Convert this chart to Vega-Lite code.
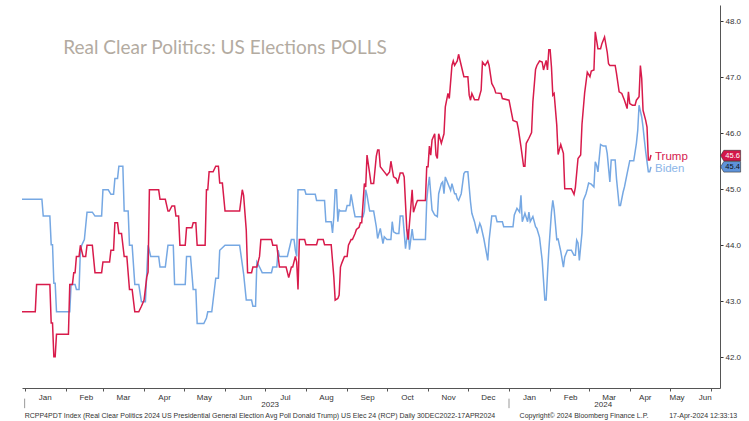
{
"$schema": "https://vega.github.io/schema/vega-lite/v6.json",
"width": 698, "height": 383,
"autosize": {"type": "none"},
"padding": {"left": 22, "top": 5, "right": 29, "bottom": 33},
"background": "white",
"config": {"view": {"stroke": null}, "font": "Liberation Sans"},
"datasets": {
"biden": [
{"date":"2022-12-30","value":44.82},{"date":"2023-01-14","value":44.82},{"date":"2023-01-15","value":44.52},{"date":"2023-01-20","value":44.52},{"date":"2023-01-21","value":44.01},{"date":"2023-01-22","value":44.01},{"date":"2023-01-23","value":43.32},{"date":"2023-01-24","value":43.32},{"date":"2023-01-25","value":42.81},{"date":"2023-02-04","value":42.81},{"date":"2023-02-05","value":43.30},{"date":"2023-02-08","value":43.30},{"date":"2023-02-09","value":43.21},{"date":"2023-02-11","value":43.21},{"date":"2023-02-12","value":43.91},{"date":"2023-02-13","value":44.00},{"date":"2023-02-15","value":44.10},{"date":"2023-02-17","value":44.59},{"date":"2023-02-21","value":44.59},{"date":"2023-02-23","value":44.52},{"date":"2023-02-28","value":44.52},{"date":"2023-03-01","value":44.99},{"date":"2023-03-05","value":44.99},{"date":"2023-03-07","value":44.91},{"date":"2023-03-09","value":44.91},{"date":"2023-03-10","value":45.19},{"date":"2023-03-12","value":45.19},{"date":"2023-03-13","value":45.41},{"date":"2023-03-16","value":45.41},{"date":"2023-03-17","value":44.61},{"date":"2023-03-20","value":44.61},{"date":"2023-03-21","value":44.00},{"date":"2023-03-23","value":44.00},{"date":"2023-03-25","value":43.30},{"date":"2023-03-28","value":43.30},{"date":"2023-03-30","value":42.99},{"date":"2023-04-02","value":42.99},{"date":"2023-04-03","value":43.49},{"date":"2023-04-04","value":44.00},{"date":"2023-04-06","value":43.80},{"date":"2023-04-12","value":43.80},{"date":"2023-04-13","value":43.61},{"date":"2023-04-17","value":43.61},{"date":"2023-04-19","value":44.00},{"date":"2023-04-23","value":44.00},{"date":"2023-04-24","value":43.30},{"date":"2023-05-02","value":43.30},{"date":"2023-05-03","value":43.80},{"date":"2023-05-06","value":43.80},{"date":"2023-05-08","value":43.21},{"date":"2023-05-10","value":43.21},{"date":"2023-05-11","value":42.60},{"date":"2023-05-16","value":42.60},{"date":"2023-05-18","value":42.70},{"date":"2023-05-19","value":42.81},{"date":"2023-05-22","value":42.81},{"date":"2023-05-25","value":43.41},{"date":"2023-05-27","value":43.41},{"date":"2023-05-28","value":43.91},{"date":"2023-06-01","value":44.00},{"date":"2023-06-12","value":44.00},{"date":"2023-06-15","value":43.49},{"date":"2023-06-17","value":43.02},{"date":"2023-06-21","value":43.02},{"date":"2023-06-22","value":42.91},{"date":"2023-06-24","value":42.91},{"date":"2023-06-25","value":43.70},{"date":"2023-06-27","value":43.61},{"date":"2023-06-29","value":43.51},{"date":"2023-07-06","value":43.51},{"date":"2023-07-07","value":43.61},{"date":"2023-07-10","value":43.61},{"date":"2023-07-11","value":43.91},{"date":"2023-07-12","value":43.80},{"date":"2023-07-18","value":43.80},{"date":"2023-07-20","value":44.00},{"date":"2023-07-21","value":44.10},{"date":"2023-07-23","value":44.10},{"date":"2023-07-24","value":43.91},{"date":"2023-07-25","value":43.80},{"date":"2023-07-26","value":44.99},{"date":"2023-07-31","value":44.99},{"date":"2023-08-01","value":44.91},{"date":"2023-08-08","value":44.91},{"date":"2023-08-09","value":44.80},{"date":"2023-08-15","value":44.80},{"date":"2023-08-16","value":44.42},{"date":"2023-08-20","value":44.42},{"date":"2023-08-21","value":44.22},{"date":"2023-08-22","value":44.51},{"date":"2023-08-23","value":44.99},{"date":"2023-08-24","value":44.99},{"date":"2023-08-25","value":44.42},{"date":"2023-08-26","value":44.63},{"date":"2023-08-27","value":44.61},{"date":"2023-08-31","value":44.61},{"date":"2023-09-01","value":44.71},{"date":"2023-09-03","value":44.71},{"date":"2023-09-04","value":44.91},{"date":"2023-09-06","value":44.63},{"date":"2023-09-07","value":44.51},{"date":"2023-09-13","value":44.51},{"date":"2023-09-14","value":44.61},{"date":"2023-09-15","value":44.99},{"date":"2023-09-16","value":44.89},{"date":"2023-09-18","value":44.61},{"date":"2023-09-21","value":44.61},{"date":"2023-09-23","value":44.33},{"date":"2023-09-24","value":44.12},{"date":"2023-09-26","value":44.30},{"date":"2023-09-28","value":44.03},{"date":"2023-09-29","value":44.15},{"date":"2023-10-01","value":44.10},{"date":"2023-10-04","value":44.10},{"date":"2023-10-05","value":44.42},{"date":"2023-10-06","value":44.24},{"date":"2023-10-08","value":44.21},{"date":"2023-10-10","value":44.21},{"date":"2023-10-11","value":44.52},{"date":"2023-10-13","value":44.52},{"date":"2023-10-15","value":43.94},{"date":"2023-10-17","value":44.29},{"date":"2023-10-18","value":43.92},{"date":"2023-10-20","value":44.29},{"date":"2023-10-21","value":44.10},{"date":"2023-10-30","value":44.10},{"date":"2023-10-31","value":44.80},{"date":"2023-11-01","value":45.04},{"date":"2023-11-02","value":45.22},{"date":"2023-11-04","value":44.63},{"date":"2023-11-06","value":44.54},{"date":"2023-11-08","value":44.51},{"date":"2023-11-09","value":44.92},{"date":"2023-11-11","value":45.10},{"date":"2023-11-12","value":45.13},{"date":"2023-11-13","value":44.92},{"date":"2023-11-14","value":45.22},{"date":"2023-11-16","value":45.10},{"date":"2023-11-17","value":45.04},{"date":"2023-11-18","value":44.98},{"date":"2023-11-19","value":45.10},{"date":"2023-11-21","value":44.92},{"date":"2023-11-22","value":44.92},{"date":"2023-11-23","value":44.83},{"date":"2023-11-24","value":44.80},{"date":"2023-11-26","value":44.92},{"date":"2023-11-28","value":45.28},{"date":"2023-11-29","value":45.31},{"date":"2023-12-01","value":45.31},{"date":"2023-12-03","value":44.77},{"date":"2023-12-04","value":44.57},{"date":"2023-12-06","value":44.42},{"date":"2023-12-08","value":44.21},{"date":"2023-12-10","value":44.39},{"date":"2023-12-11","value":44.33},{"date":"2023-12-13","value":44.12},{"date":"2023-12-16","value":43.73},{"date":"2023-12-17","value":44.09},{"date":"2023-12-19","value":44.52},{"date":"2023-12-22","value":44.52},{"date":"2023-12-23","value":44.42},{"date":"2023-12-27","value":44.42},{"date":"2023-12-28","value":44.33},{"date":"2024-01-04","value":44.33},{"date":"2024-01-05","value":44.54},{"date":"2024-01-07","value":44.66},{"date":"2024-01-09","value":44.59},{"date":"2024-01-10","value":44.89},{"date":"2024-01-11","value":44.42},{"date":"2024-01-13","value":44.57},{"date":"2024-01-15","value":44.42},{"date":"2024-01-16","value":44.59},{"date":"2024-01-17","value":44.42},{"date":"2024-01-19","value":44.51},{"date":"2024-01-21","value":44.33},{"date":"2024-01-22","value":44.30},{"date":"2024-01-24","value":44.14},{"date":"2024-01-26","value":43.73},{"date":"2024-01-28","value":43.02},{"date":"2024-01-29","value":43.02},{"date":"2024-01-30","value":43.49},{"date":"2024-01-31","value":43.91},{"date":"2024-02-02","value":44.59},{"date":"2024-02-03","value":44.80},{"date":"2024-02-04","value":44.64},{"date":"2024-02-06","value":44.10},{"date":"2024-02-07","value":44.11},{"date":"2024-02-09","value":43.89},{"date":"2024-02-11","value":43.61},{"date":"2024-02-12","value":43.79},{"date":"2024-02-14","value":43.91},{"date":"2024-02-17","value":43.91},{"date":"2024-02-19","value":43.82},{"date":"2024-02-20","value":43.82},{"date":"2024-02-21","value":44.09},{"date":"2024-02-22","value":44.04},{"date":"2024-02-23","value":43.73},{"date":"2024-02-25","value":44.22},{"date":"2024-02-26","value":44.80},{"date":"2024-02-28","value":44.92},{"date":"2024-02-29","value":45.01},{"date":"2024-03-01","value":45.11},{"date":"2024-03-03","value":45.09},{"date":"2024-03-05","value":45.04},{"date":"2024-03-06","value":45.49},{"date":"2024-03-07","value":45.43},{"date":"2024-03-08","value":45.31},{"date":"2024-03-10","value":45.80},{"date":"2024-03-12","value":45.77},{"date":"2024-03-14","value":45.77},{"date":"2024-03-15","value":45.64},{"date":"2024-03-17","value":45.13},{"date":"2024-03-18","value":45.52},{"date":"2024-03-21","value":45.52},{"date":"2024-03-22","value":45.19},{"date":"2024-03-24","value":44.71},{"date":"2024-03-25","value":44.71},{"date":"2024-03-27","value":44.95},{"date":"2024-03-28","value":45.04},{"date":"2024-03-30","value":45.28},{"date":"2024-04-01","value":45.51},{"date":"2024-04-04","value":45.51},{"date":"2024-04-06","value":45.82},{"date":"2024-04-07","value":46.05},{"date":"2024-04-08","value":46.50},{"date":"2024-04-10","value":46.29},{"date":"2024-04-11","value":46.11},{"date":"2024-04-12","value":45.88},{"date":"2024-04-13","value":45.67},{"date":"2024-04-15","value":45.31},{"date":"2024-04-16","value":45.31},{"date":"2024-04-17","value":45.40}
],
"trump": [
{"date":"2022-12-30","value":42.81},{"date":"2023-01-09","value":42.81},{"date":"2023-01-10","value":43.30},{"date":"2023-01-20","value":43.30},{"date":"2023-01-21","value":42.61},{"date":"2023-01-22","value":42.61},{"date":"2023-01-23","value":42.01},{"date":"2023-01-24","value":42.01},{"date":"2023-01-25","value":42.41},{"date":"2023-02-03","value":42.41},{"date":"2023-02-04","value":43.30},{"date":"2023-02-06","value":43.30},{"date":"2023-02-07","value":43.51},{"date":"2023-02-08","value":43.51},{"date":"2023-02-09","value":43.80},{"date":"2023-02-11","value":43.80},{"date":"2023-02-12","value":44.00},{"date":"2023-02-14","value":43.80},{"date":"2023-02-16","value":43.80},{"date":"2023-02-17","value":44.00},{"date":"2023-02-21","value":44.00},{"date":"2023-02-23","value":43.51},{"date":"2023-02-28","value":43.51},{"date":"2023-03-01","value":43.70},{"date":"2023-03-06","value":43.70},{"date":"2023-03-07","value":43.91},{"date":"2023-03-09","value":43.91},{"date":"2023-03-10","value":44.40},{"date":"2023-03-12","value":44.40},{"date":"2023-03-13","value":44.21},{"date":"2023-03-15","value":44.21},{"date":"2023-03-17","value":43.80},{"date":"2023-03-19","value":43.80},{"date":"2023-03-21","value":43.21},{"date":"2023-03-23","value":43.21},{"date":"2023-03-25","value":42.81},{"date":"2023-03-28","value":42.81},{"date":"2023-03-30","value":42.91},{"date":"2023-04-01","value":43.02},{"date":"2023-04-03","value":43.43},{"date":"2023-04-04","value":43.52},{"date":"2023-04-05","value":44.99},{"date":"2023-04-12","value":44.99},{"date":"2023-04-13","value":44.82},{"date":"2023-04-17","value":44.82},{"date":"2023-04-19","value":44.61},{"date":"2023-04-20","value":44.61},{"date":"2023-04-22","value":44.70},{"date":"2023-04-24","value":44.70},{"date":"2023-04-25","value":44.52},{"date":"2023-04-27","value":44.52},{"date":"2023-04-28","value":44.00},{"date":"2023-05-02","value":44.00},{"date":"2023-05-03","value":44.31},{"date":"2023-05-07","value":44.31},{"date":"2023-05-08","value":44.40},{"date":"2023-05-10","value":44.40},{"date":"2023-05-11","value":44.00},{"date":"2023-05-17","value":44.00},{"date":"2023-05-18","value":44.99},{"date":"2023-05-19","value":44.99},{"date":"2023-05-20","value":45.31},{"date":"2023-05-23","value":45.31},{"date":"2023-05-25","value":45.41},{"date":"2023-05-27","value":45.41},{"date":"2023-05-28","value":45.11},{"date":"2023-05-30","value":45.11},{"date":"2023-06-01","value":44.61},{"date":"2023-06-12","value":44.61},{"date":"2023-06-14","value":44.99},{"date":"2023-06-15","value":44.89},{"date":"2023-06-17","value":44.27},{"date":"2023-06-18","value":43.51},{"date":"2023-06-21","value":43.51},{"date":"2023-06-22","value":43.61},{"date":"2023-06-25","value":43.61},{"date":"2023-06-27","value":43.80},{"date":"2023-06-28","value":44.10},{"date":"2023-07-06","value":44.10},{"date":"2023-07-07","value":44.00},{"date":"2023-07-10","value":44.00},{"date":"2023-07-12","value":43.61},{"date":"2023-07-17","value":43.61},{"date":"2023-07-19","value":43.42},{"date":"2023-07-21","value":43.61},{"date":"2023-07-22","value":43.61},{"date":"2023-07-24","value":43.80},{"date":"2023-07-25","value":43.70},{"date":"2023-07-26","value":43.21},{"date":"2023-07-27","value":44.10},{"date":"2023-07-31","value":44.10},{"date":"2023-08-01","value":44.01},{"date":"2023-08-09","value":44.01},{"date":"2023-08-10","value":44.10},{"date":"2023-08-14","value":44.10},{"date":"2023-08-15","value":44.01},{"date":"2023-08-20","value":44.01},{"date":"2023-08-22","value":43.43},{"date":"2023-08-23","value":43.02},{"date":"2023-08-25","value":43.05},{"date":"2023-08-26","value":43.11},{"date":"2023-08-27","value":43.61},{"date":"2023-08-28","value":43.68},{"date":"2023-08-30","value":43.80},{"date":"2023-09-01","value":43.80},{"date":"2023-09-02","value":44.00},{"date":"2023-09-04","value":44.10},{"date":"2023-09-05","value":44.10},{"date":"2023-09-07","value":44.21},{"date":"2023-09-08","value":44.28},{"date":"2023-09-10","value":44.32},{"date":"2023-09-11","value":44.40},{"date":"2023-09-12","value":44.40},{"date":"2023-09-14","value":45.10},{"date":"2023-09-15","value":45.04},{"date":"2023-09-16","value":45.61},{"date":"2023-09-18","value":45.28},{"date":"2023-09-19","value":45.10},{"date":"2023-09-21","value":45.10},{"date":"2023-09-23","value":45.59},{"date":"2023-09-24","value":45.70},{"date":"2023-09-25","value":45.70},{"date":"2023-09-26","value":45.40},{"date":"2023-09-29","value":45.31},{"date":"2023-10-01","value":45.25},{"date":"2023-10-03","value":45.31},{"date":"2023-10-04","value":45.50},{"date":"2023-10-06","value":45.22},{"date":"2023-10-08","value":45.19},{"date":"2023-10-09","value":45.10},{"date":"2023-10-11","value":45.29},{"date":"2023-10-13","value":45.29},{"date":"2023-10-14","value":45.22},{"date":"2023-10-16","value":44.27},{"date":"2023-10-17","value":44.10},{"date":"2023-10-19","value":44.68},{"date":"2023-10-20","value":44.99},{"date":"2023-10-21","value":44.59},{"date":"2023-10-23","value":44.74},{"date":"2023-10-24","value":44.80},{"date":"2023-10-30","value":44.80},{"date":"2023-10-31","value":45.40},{"date":"2023-11-01","value":45.40},{"date":"2023-11-02","value":45.77},{"date":"2023-11-03","value":45.61},{"date":"2023-11-04","value":45.88},{"date":"2023-11-06","value":45.99},{"date":"2023-11-07","value":45.61},{"date":"2023-11-08","value":45.55},{"date":"2023-11-09","value":45.99},{"date":"2023-11-11","value":45.82},{"date":"2023-11-13","value":45.99},{"date":"2023-11-14","value":46.47},{"date":"2023-11-16","value":46.71},{"date":"2023-11-17","value":46.62},{"date":"2023-11-19","value":47.21},{"date":"2023-11-20","value":47.29},{"date":"2023-11-21","value":47.21},{"date":"2023-11-23","value":47.29},{"date":"2023-11-24","value":47.41},{"date":"2023-11-26","value":47.21},{"date":"2023-11-28","value":47.01},{"date":"2023-12-01","value":47.01},{"date":"2023-12-02","value":46.68},{"date":"2023-12-03","value":46.59},{"date":"2023-12-04","value":46.71},{"date":"2023-12-06","value":46.60},{"date":"2023-12-09","value":46.60},{"date":"2023-12-11","value":46.77},{"date":"2023-12-12","value":47.27},{"date":"2023-12-14","value":47.21},{"date":"2023-12-16","value":47.29},{"date":"2023-12-17","value":47.21},{"date":"2023-12-19","value":46.89},{"date":"2023-12-21","value":46.80},{"date":"2023-12-22","value":46.72},{"date":"2023-12-26","value":46.71},{"date":"2023-12-27","value":46.62},{"date":"2024-01-01","value":46.59},{"date":"2024-01-04","value":46.23},{"date":"2024-01-07","value":46.20},{"date":"2024-01-08","value":46.08},{"date":"2024-01-10","value":45.76},{"date":"2024-01-12","value":45.41},{"date":"2024-01-13","value":45.41},{"date":"2024-01-14","value":45.82},{"date":"2024-01-16","value":45.91},{"date":"2024-01-18","value":46.01},{"date":"2024-01-19","value":46.56},{"date":"2024-01-21","value":47.14},{"date":"2024-01-22","value":47.21},{"date":"2024-01-24","value":47.29},{"date":"2024-01-26","value":47.27},{"date":"2024-01-27","value":47.13},{"date":"2024-01-29","value":47.30},{"date":"2024-01-30","value":47.13},{"date":"2024-01-31","value":47.49},{"date":"2024-02-01","value":47.49},{"date":"2024-02-02","value":47.18},{"date":"2024-02-03","value":46.68},{"date":"2024-02-04","value":46.71},{"date":"2024-02-06","value":46.14},{"date":"2024-02-07","value":45.62},{"date":"2024-02-09","value":45.80},{"date":"2024-02-11","value":45.64},{"date":"2024-02-12","value":45.01},{"date":"2024-02-17","value":45.01},{"date":"2024-02-19","value":44.91},{"date":"2024-02-20","value":45.03},{"date":"2024-02-22","value":45.55},{"date":"2024-02-24","value":45.61},{"date":"2024-02-25","value":46.16},{"date":"2024-02-27","value":46.72},{"date":"2024-02-29","value":47.09},{"date":"2024-03-02","value":47.01},{"date":"2024-03-03","value":47.11},{"date":"2024-03-05","value":47.13},{"date":"2024-03-06","value":47.81},{"date":"2024-03-08","value":47.51},{"date":"2024-03-10","value":47.51},{"date":"2024-03-11","value":47.60},{"date":"2024-03-13","value":47.72},{"date":"2024-03-15","value":47.45},{"date":"2024-03-16","value":47.24},{"date":"2024-03-17","value":47.21},{"date":"2024-03-21","value":47.21},{"date":"2024-03-22","value":47.07},{"date":"2024-03-24","value":46.74},{"date":"2024-03-26","value":46.71},{"date":"2024-03-28","value":46.59},{"date":"2024-03-30","value":46.44},{"date":"2024-03-31","value":46.74},{"date":"2024-04-01","value":46.53},{"date":"2024-04-03","value":46.50},{"date":"2024-04-05","value":46.50},{"date":"2024-04-06","value":46.59},{"date":"2024-04-08","value":46.65},{"date":"2024-04-09","value":47.21},{"date":"2024-04-10","value":46.98},{"date":"2024-04-11","value":46.41},{"date":"2024-04-13","value":46.23},{"date":"2024-04-14","value":46.11},{"date":"2024-04-15","value":45.52},{"date":"2024-04-16","value":45.52},{"date":"2024-04-17","value":45.61}
]
},
"layer": [
{
"data": {"name": "biden"},
"mark": {"type": "line", "color": "#76a8e3", "strokeWidth": 1.5},
"encoding": {
"x": {"field": "date", "type": "temporal",
 "scale": {"type": "utc", "domain": [{"year":2022,"month":12,"date":30,"utc":true},{"year":2024,"month":6,"date":8,"utc":true}]},
 "axis": {"title": null, "grid": false,
  "labelExpr": "utcFormat(datum.value, '%b')",
  "values": [{"year":2023,"month":1,"date":1,"utc":true},{"year":2023,"month":2,"date":1,"utc":true},{"year":2023,"month":3,"date":1,"utc":true},{"year":2023,"month":4,"date":1,"utc":true},{"year":2023,"month":5,"date":1,"utc":true},{"year":2023,"month":6,"date":1,"utc":true},{"year":2023,"month":7,"date":1,"utc":true},{"year":2023,"month":8,"date":1,"utc":true},{"year":2023,"month":9,"date":1,"utc":true},{"year":2023,"month":10,"date":1,"utc":true},{"year":2023,"month":11,"date":1,"utc":true},{"year":2023,"month":12,"date":1,"utc":true},{"year":2024,"month":1,"date":1,"utc":true},{"year":2024,"month":2,"date":1,"utc":true},{"year":2024,"month":3,"date":1,"utc":true},{"year":2024,"month":4,"date":1,"utc":true},{"year":2024,"month":5,"date":1,"utc":true},{"year":2024,"month":6,"date":1,"utc":true}],
  "labelAlign": "center",
  "labelOffset": {"condition": [{"test": "datum.value >= 1717200000000", "value": -6}, {"test": "datum.value >= 1714521600000", "value": 7}, {"test": "datum.value >= 1711929600000", "value": 15}], "value": 20},
  "labelPadding": 2, "tickSize": 3, "tickColor": "#555", "domainColor": "#555",
  "labelFontSize": 8, "labelColor": "#333", "labelOverlap": false, "labelBound": false, "labelFlush": false}},
"y": {"field": "value", "type": "quantitative",
 "scale": {"domain": [41.45, 48.29], "zero": false, "nice": false},
 "axis": {"orient": "right", "title": null, "grid": false, "values": [42,43,44,45,46,47,48], "format": ".1f",
  "tickSize": 3, "tickColor": "#333", "domainColor": "#555", "labelFontSize": 8, "labelColor": "#333", "labelPadding": 2}}
}
},
{
"data": {"name": "trump"},
"mark": {"type": "line", "color": "#d81b4b", "strokeWidth": 1.5},
"encoding": {
"x": {"field": "date", "type": "temporal"},
"y": {"field": "value", "type": "quantitative"}
}
},
{
"data": {"values": [{"name": "Trump", "value": 45.61, "date": "2024-04-17"}, {"name": "Biden", "value": 45.40, "date": "2024-04-17"}]},
"mark": {"type": "text", "align": "left", "baseline": "middle", "dx": 4, "fontSize": 11.5, "font": "Liberation Sans"},
"encoding": {
"x": {"field": "date", "type": "temporal"},
"y": {"field": "value", "type": "quantitative"},
"yOffset": {"condition": {"test": "datum.name === 'Trump'", "value": -1}, "value": 2},
"text": {"field": "name"},
"color": {"condition": {"test": "datum.name === 'Trump'", "value": "#d4204f"}, "value": "#8db6e8"}
}
},
{
"data": {"values": [{"name": "Trump", "value": 45.6, "label": "45.6"}, {"name": "Biden", "value": 45.4, "label": "45.4"}]},
"mark": {"type": "point", "shape": "M-1,0L-0.68,-0.53L1,-0.53L1,0.53L-0.68,0.53Z", "size": 400, "filled": true, "opacity": 1, "stroke": "#333", "strokeWidth": 0.6},
"encoding": {
"x": {"datum": {"year":2024,"month":6,"date":16,"utc":true}, "type": "temporal"},
"y": {"field": "value", "type": "quantitative"},
"fill": {"condition": {"test": "datum.name === 'Trump'", "value": "#d3174a"}, "value": "#5e93da"}
}
},
{
"data": {"values": [{"name": "Trump", "value": 45.6, "label": "45.6"}, {"name": "Biden", "value": 45.4, "label": "45.4"}]},
"mark": {"type": "text", "align": "center", "baseline": "middle", "dx": 2, "fontSize": 7.5},
"encoding": {
"x": {"datum": {"year":2024,"month":6,"date":16,"utc":true}, "type": "temporal"},
"y": {"field": "value", "type": "quantitative"},
"text": {"field": "label"},
"color": {"condition": {"test": "datum.name === 'Trump'", "value": "#ffffff"}, "value": "#111111"}
}
},
{
"data": {"values": [{}]},
"mark": {"type": "text", "text": "Real Clear Politics: US Elections POLLS", "align": "left", "baseline": "alphabetic", "fontSize": 19, "font": "Lato", "color": "#b3aba1"},
"encoding": {
"x": {"datum": {"year":2023,"month":1,"date":30,"utc":true}, "type": "temporal"},
"y": {"datum": 47.41, "type": "quantitative"}
}
},
{
"data": {"values": [{}]},
"mark": {"type": "text", "text": "2023", "align": "center", "baseline": "middle", "fontSize": 8, "color": "#333"},
"encoding": {
"x": {"datum": {"year":2023,"month":7,"date":5,"utc":true}, "type": "temporal"},
"y": {"datum": 41.14, "type": "quantitative"}
}
},
{
"data": {"values": [{}]},
"mark": {"type": "text", "text": "2024", "align": "center", "baseline": "middle", "fontSize": 8, "color": "#333"},
"encoding": {
"x": {"datum": {"year":2024,"month":3,"date":12,"utc":true}, "type": "temporal"},
"y": {"datum": 41.14, "type": "quantitative"}
}
},
{
"data": {"values": [{}]},
"mark": {"type": "rule", "color": "#999", "strokeWidth": 1},
"encoding": {
"x": {"datum": {"year":2023,"month":1,"date":1,"utc":true}, "type": "temporal"},
"y": {"datum": 41.26, "type": "quantitative"},
"y2": {"datum": 41.09}
}
},
{
"data": {"values": [{}]},
"mark": {"type": "rule", "color": "#999", "strokeWidth": 1},
"encoding": {
"x": {"datum": {"year":2024,"month":1,"date":1,"utc":true}, "type": "temporal"},
"y": {"datum": 41.26, "type": "quantitative"},
"y2": {"datum": 41.09}
}
},
{
"data": {"values": [{}]},
"mark": {"type": "text", "text": "RCPP4PDT Index (Real Clear Politics 2024 US Presidential General Election Avg Poll Donald Trump) US Elec 24 (RCP)  Daily 30DEC2022-17APR2024", "align": "left", "baseline": "middle", "fontSize": 7, "color": "#333"},
"encoding": {
"x": {"datum": {"year":2023,"month":1,"date":1,"utc":true}, "type": "temporal"},
"y": {"datum": 40.95, "type": "quantitative"}
}
},
{
"data": {"values": [{}]},
"mark": {"type": "text", "text": "Copyright© 2024 Bloomberg Finance L.P.", "align": "left", "baseline": "middle", "fontSize": 7, "color": "#333"},
"encoding": {
"x": {"datum": {"year":2024,"month":1,"date":9,"utc":true}, "type": "temporal"},
"y": {"datum": 40.95, "type": "quantitative"}
}
},
{
"data": {"values": [{}]},
"mark": {"type": "text", "text": "17-Apr-2024 12:33:13", "align": "right", "baseline": "middle", "fontSize": 7, "color": "#333"},
"encoding": {
"x": {"datum": {"year":2024,"month":6,"date":21,"utc":true}, "type": "temporal"},
"y": {"datum": 40.95, "type": "quantitative"}
}
}
]
}
